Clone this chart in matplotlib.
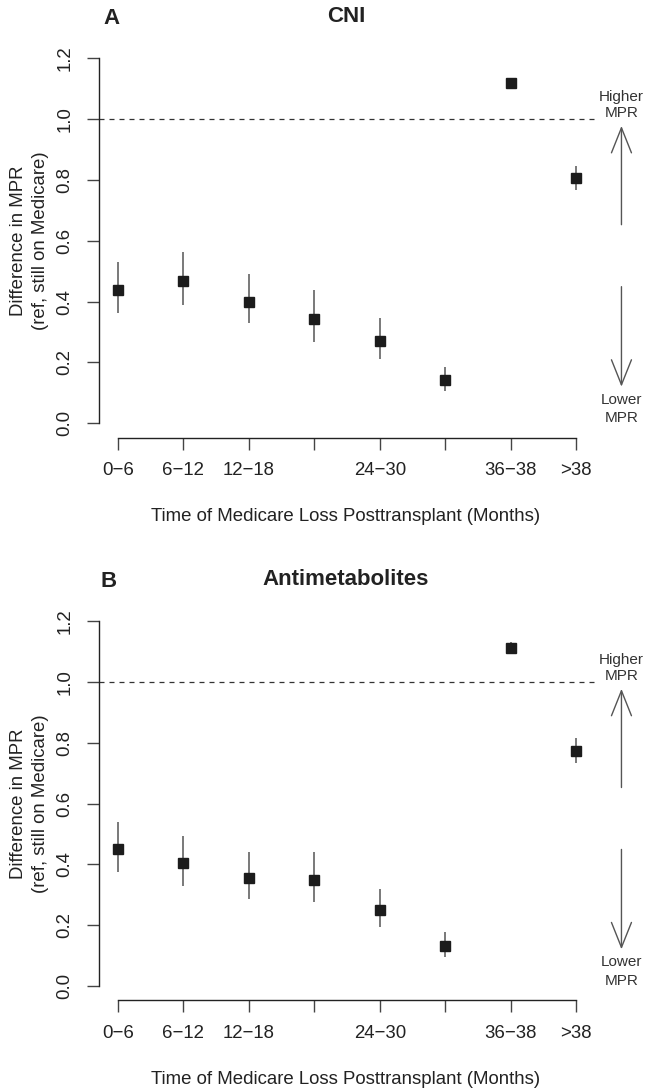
import numpy as np
import matplotlib
matplotlib.use("Agg")
import matplotlib.pyplot as plt

plt.rcParams['font.family'] = ['Liberation Sans', 'DejaVu Sans']

# data
x_labels = ["0\u22126", "6\u221212", "12\u221218", "", "24\u221230", "", "36\u221238", ">38"]
x_pos = np.arange(1, 9)

cni_est = [0.437, 0.467, 0.400, 0.342, 0.271, 0.142, 1.118, 0.806]
cni_lo = [0.362, 0.389, 0.329, 0.268, 0.211, 0.107, 1.100, 0.767]
cni_hi = [0.530, 0.562, 0.490, 0.437, 0.345, 0.184, 1.133, 0.847]

anti_est = [0.450, 0.404, 0.354, 0.348, 0.249, 0.130, 1.113, 0.774]
anti_lo = [0.374, 0.329, 0.286, 0.276, 0.194, 0.096, 1.095, 0.733]
anti_hi = [0.539, 0.492, 0.440, 0.440, 0.318, 0.177, 1.134, 0.816]

W, H = 646, 1092
fig = plt.figure(figsize=(W / 100, H / 100), dpi=100)


def fx(px):
    return px / W


def fy(py):
    return 1 - py / H


def panel(top_px, bot_px, est, lo, hi, letter, title, letter_x):
    ax = fig.add_axes([fx(99.4), fy(bot_px), fx(594.6) - fx(99.4), fy(top_px) - fy(bot_px)])
    ax.set_xlim(0.72, 8.28)
    ax.set_ylim(-0.048, 1.248)

    ax.axhline(1.0, color='#333333', lw=0.9, ls=(0, (4, 4)))
    ax.vlines(x_pos, lo, hi, color='#555555', lw=1.1)
    ax.plot(x_pos, est, 's', ms=6.6, color='#1c1c1c', mec='#1c1c1c')

    for s in ['top', 'right']:
        ax.spines[s].set_visible(False)
    ax.spines['left'].set_bounds(0, 1.2)
    ax.spines['bottom'].set_bounds(1, 8)
    for s in ['left', 'bottom']:
        ax.spines[s].set_color('#222222')
        ax.spines[s].set_linewidth(1.0)

    yt = [0.0, 0.2, 0.4, 0.6, 0.8, 1.0, 1.2]
    ax.set_yticks(yt)
    ax.set_yticklabels(["%.1f" % v for v in yt], rotation=90, va='center')
    ax.set_xticks(x_pos)
    ax.set_xticklabels(x_labels)
    ax.tick_params(axis='both', length=8.5, width=1.0, color='#444444',
                   labelsize=13.4, labelcolor='#222222')
    ax.tick_params(axis='y', pad=10)
    ax.tick_params(axis='x', pad=9)

    # arrows and side notes in the right margin
    ax_x = 8.69
    ap = dict(arrowstyle='->,head_length=1.8,head_width=0.72', lw=1.0,
              color='#555555', mutation_scale=10, shrinkA=0, shrinkB=0)
    ax.annotate('', xy=(ax_x, 0.978), xytext=(ax_x, 0.653), arrowprops=ap,
                annotation_clip=False)
    ax.annotate('', xy=(ax_x, 0.120), xytext=(ax_x, 0.449), arrowprops=ap,
                annotation_clip=False)
    for txt, yv in [("Higher", 1.074), ("MPR", 1.021), ("Lower", 0.077), ("MPR", 0.016)]:
        ax.text(ax_x, yv, txt, ha='center', va='center', fontsize=11,
                color='#333333', clip_on=False)

    fig.text(fx(346), fy(top_px - 27), title, ha='center', va='center',
             fontsize=16, fontweight='bold', color='#222222')
    fig.text(fx(letter_x), fy(top_px - 25), letter, ha='center', va='center',
             fontsize=16, fontweight='bold', color='#222222')
    fig.text(fx(346), fy(bot_px + 79), "Time of Medicare Loss Posttransplant (Months)",
             ha='center', va='center', fontsize=13.4, color='#222222')
    mid = (top_px + bot_px) / 2
    fig.text(fx(19), fy(mid), "Difference in MPR", rotation=90, ha='center',
             va='center', fontsize=13.4, color='#222222')
    fig.text(fx(41), fy(mid), "(ref, still on Medicare)", rotation=90, ha='center',
             va='center', fontsize=13.4, color='#222222')
    return ax


panel(43.9, 437.7, cni_est, cni_lo, cni_hi, "A", "CNI", 112)
panel(606.9, 1000.3, anti_est, anti_lo, anti_hi, "B", "Antimetabolites", 109)

fig.savefig("out.png", dpi=100)
